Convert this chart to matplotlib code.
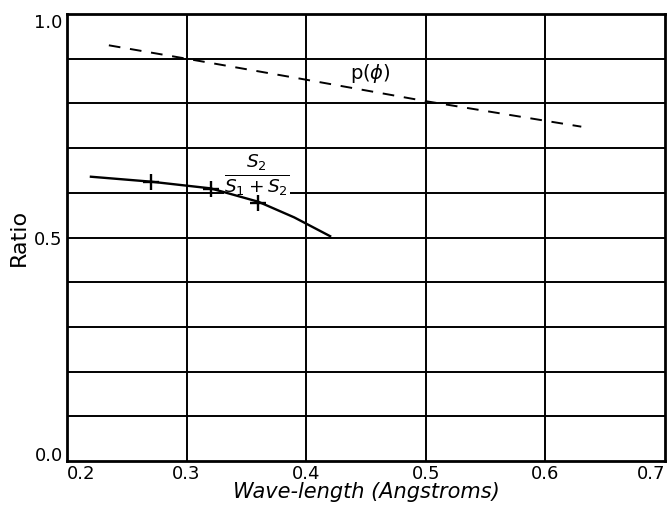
import numpy as np
import matplotlib.pyplot as plt

# ======================
# DATA
# ======================
wl_p = [0.235, 0.30, 0.40, 0.50, 0.63]
ratio_p = [0.930, 0.900, 0.853, 0.805, 0.748]

wl_s = [0.22, 0.27, 0.32, 0.36, 0.39, 0.42]
ratio_s = [0.636, 0.625, 0.610, 0.580, 0.545, 0.503]

wl_pts = [0.27, 0.32, 0.36]
ratio_pts = [0.625, 0.608, 0.577]

x_ticks = [0.2, 0.3, 0.4, 0.5, 0.6, 0.7]
y_ticks = [0.0, 0.5, 1.0]

# ======================
# PLOT
# ======================
fig = plt.figure(figsize=(6.72, 5.08), dpi=100)
ax = fig.add_axes([0.0997, 0.0925, 0.8899, 0.8799])

for y in np.arange(0.1, 1.0, 0.1):
    ax.axhline(y, color="black", lw=1.4, zorder=1)
for x in x_ticks[1:-1]:
    ax.axvline(x, color="black", lw=1.4, zorder=1)

ax.plot(wl_p, ratio_p, color="black", lw=1.4, linestyle=(0, (6, 5)), zorder=3)
ax.plot(wl_s, ratio_s, color="black", lw=1.7, zorder=3)
ax.plot(wl_pts, ratio_pts, "+", color="black", ms=12, mew=1.7, zorder=4)

ax.text(0.4535, 0.868, r"p($\phi$)", fontsize=14, ha="center", va="center")
ax.text(0.359, 0.640, r"$\frac{S_2}{S_1+S_2}$", fontsize=19, ha="center", va="center",
        bbox=dict(facecolor="white", edgecolor="none", pad=0), zorder=2)

ax.set_xlim(0.2, 0.7)
ax.set_ylim(0.0, 1.0)
ax.set_xticks(x_ticks)
ax.set_yticks(y_ticks)
ax.set_xticklabels([f"{v:.1f}" for v in x_ticks])
ax.set_yticklabels([f"{v:.1f}" for v in y_ticks])
ax.tick_params(length=0, labelsize=13, pad=3)

xl = ax.get_xticklabels()
xl[0].set_ha("left")
xl[-1].set_ha("right")
yl = ax.get_yticklabels()
yl[0].set_va("baseline")
yl[-1].set_va("top")

for s in ax.spines.values():
    s.set_linewidth(2)

ax.set_xlabel("Wave-length (Angstroms)", fontsize=15, style="italic", labelpad=-1)
ax.set_ylabel("Ratio", fontsize=16, labelpad=4)

plt.savefig("out.png", dpi=100)
